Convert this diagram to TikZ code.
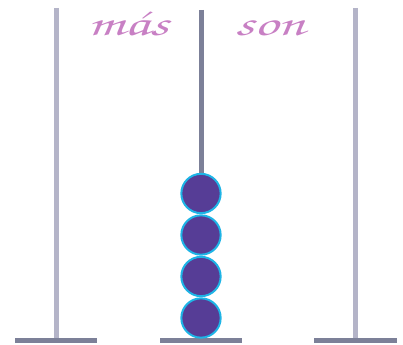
\documentclass[tikz,border=0pt]{standalone}
\definecolor{colpalo}{RGB}{180,180,200}
\definecolor{colpalooscuro}{RGB}{124,128,152}
\definecolor{colbolita}{RGB}{86,61,150}
\definecolor{colborde}{RGB}{30,180,230}
\definecolor{colletra}{RGB}{200,128,196}
\tikzset{
	poste/.style={colpalo,line width=3.75pt},
	base/.style={colpalooscuro,line width=3.75pt},
	cuenta/.style={circle,fill=colbolita,draw=colborde,line width=1.5pt,minimum size=29.5pt,inner sep=0pt},
	rotulo/.style={colletra,font=\fontencoding{T1}\fontfamily{pzc}\fontsize{27}{27}\selectfont,xscale=1.65}
}
\begin{document}
\begin{tikzpicture}[x=0.75pt,y=-0.75pt]
				\useasboundingbox (0,0) rectangle (403,345);
				\draw[poste] (56,8) to (56,339);
				\draw[poste] (355,8) to (355,339);
				\draw[colpalooscuro,line width=3.75pt] (201,10) to (201,180);
				
				\draw[base] (15,340.5) to (97,340.5);
				\draw[base] (160,340.5) to (242,340.5);
				\draw[base] (314,340.5) to (397,340.5);
				
				\node[cuenta] (c1) at (201,318) {};
				\node[cuenta] (c2) at (201,276.5) {};
				\node[cuenta] (c3) at (201,235) {};
				\node[cuenta] (c4) at (201,193.5) {};
				
				\node[rotulo,anchor=base] (mas) at (128,36) {m\'as};
				\node[rotulo,anchor=base] (son) at (270,36) {son};
			\end{tikzpicture}
\end{document}
